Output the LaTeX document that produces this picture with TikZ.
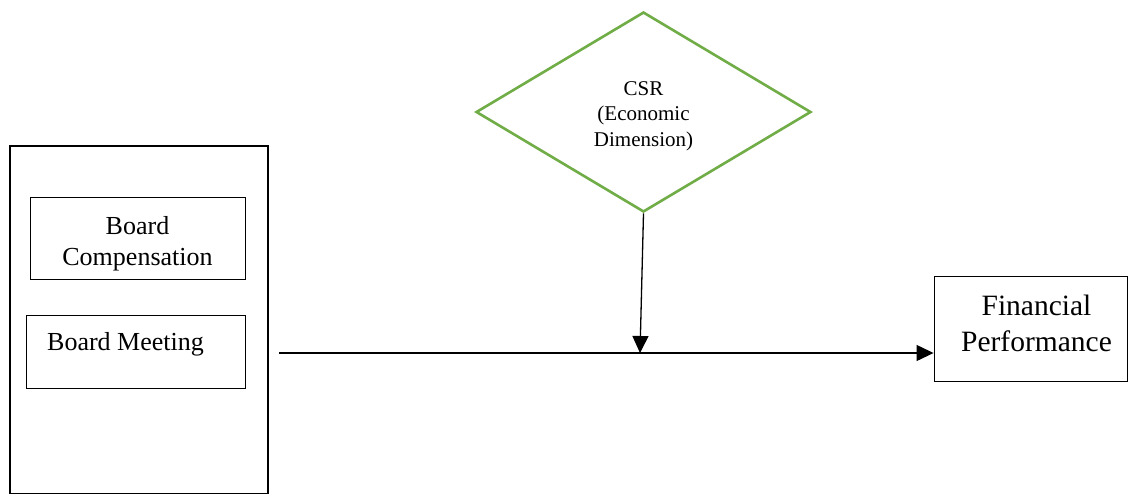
\documentclass[tikz,border=0pt]{standalone}
\usepackage{fontspec}
\setmainfont{Liberation Serif}
\usetikzlibrary{shapes.geometric,arrows.meta}
\definecolor{csrgreen}{HTML}{70AD47}
\begin{document}
\begin{tikzpicture}[x=1pt,y=-1pt,
  box/.style={draw=black,line width=0.9pt,inner sep=0pt},
  txt/.style={inner sep=0pt,align=center},
  conn/.style={line width=1.3pt,-{Triangle[length=17pt,width=16pt]}}]
\useasboundingbox[fill=white] (0,0) rectangle (1128,493);
\node[draw,line width=2.4pt,minimum width=258pt,minimum height=348pt,inner sep=0pt] (grp) at (139,320) {};
\node[box,minimum width=215pt,minimum height=82pt] (bc) at (137.5,238) {};
\node[txt,font=\fontsize{26}{31}\selectfont] (bct) at ([shift={(0,6)}]bc.center) {Board\\Compensation};
\node[box,minimum width=219pt,minimum height=73pt] (bm) at (135.5,351.5) {};
\node[txt,anchor=base west,font=\fontsize{26}{31}\selectfont] (bmt) at (47,350) {Board Meeting};
\node[box,minimum width=193pt,minimum height=105pt] (fp) at (1030.5,328.5) {};
\node[txt,font=\fontsize{29.5}{36}\selectfont] (fpt) at ([shift={(6,-5)}]fp.center) {Financial\\Performance};
\node[diamond,draw=csrgreen,line width=2.6pt,minimum width=335pt,minimum height=200pt,inner sep=0pt] (csr) at (643.5,112) {};
\node[txt,font=\fontsize{21}{25.5}\selectfont] (csrt) at ([shift={(0,4)}]csr.center) {CSR\\(Economic\\Dimension)};
\coordinate (start) at (279,353);
\coordinate (mid) at (640,353);
\draw[conn] (start) -- (start -| fp.west);
\draw[conn] (csr.south) -- (mid);
\end{tikzpicture}
\end{document}
